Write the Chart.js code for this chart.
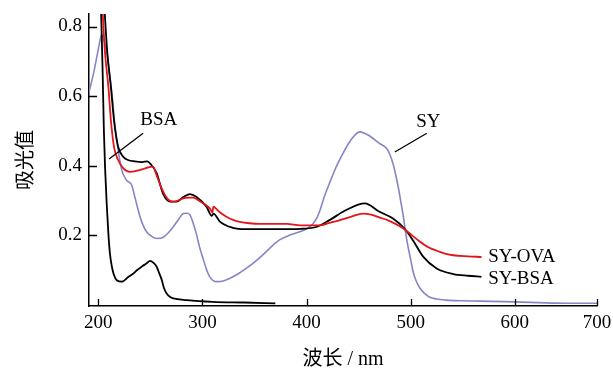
<!DOCTYPE html>
<html>
<head>
<meta charset="utf-8">
<script src="https://cdn.jsdelivr.net/npm/chart.js@4.4.1/dist/chart.umd.min.js"></script>
<style>
  body { margin: 0; background: #fff; }
  canvas { display: block; }
</style>
</head>
<body>
<canvas id="spectra" width="613" height="372"></canvas>
<script>
// wavelength (nm) and absorbance
const syOvaWl = [203.5, 204.5, 206.4, 209.6, 212, 215, 219, 224, 230.4, 238, 245, 252.5, 256, 260, 264, 268, 272, 277, 282, 287, 291, 298, 303, 307, 309.5, 310.5, 312, 317, 323, 330, 336, 345, 355, 381, 394, 413, 422, 432, 443, 454, 462, 470, 480, 493, 501, 509, 517, 525, 533, 541, 555, 568];
const syOvaAbs = [0.9, 0.82, 0.724, 0.627, 0.531, 0.454, 0.416, 0.392, 0.382, 0.386, 0.392, 0.397, 0.372, 0.34, 0.315, 0.3, 0.296, 0.3, 0.306, 0.308, 0.308, 0.296, 0.287, 0.277, 0.265, 0.282, 0.279, 0.265, 0.253, 0.243, 0.238, 0.234, 0.232, 0.232, 0.228, 0.228, 0.235, 0.243, 0.253, 0.262, 0.259, 0.251, 0.24, 0.219, 0.2, 0.181, 0.165, 0.155, 0.147, 0.142, 0.139, 0.137];

const syBsaWl = [205, 206.5, 208.6, 212, 215, 219, 224, 228.5, 235, 242, 247, 250, 256, 262, 269, 275, 282, 288, 294, 304, 309, 310.5, 317, 329, 342, 374, 394, 410, 422, 438, 456, 470, 483, 494, 502, 512, 525, 541, 555, 568];
const syBsaAbs = [0.9, 0.82, 0.724, 0.627, 0.531, 0.454, 0.425, 0.416, 0.412, 0.41, 0.412, 0.405, 0.378, 0.32, 0.296, 0.296, 0.31, 0.318, 0.31, 0.281, 0.255, 0.262, 0.238, 0.221, 0.217, 0.217, 0.218, 0.224, 0.243, 0.272, 0.291, 0.267, 0.248, 0.219, 0.186, 0.138, 0.104, 0.088, 0.083, 0.08];

const bsaWl = [201.5, 203, 204, 205.3, 206.4, 208, 209.6, 211, 213, 215, 217.7, 222.5, 229, 233, 237, 242, 246.5, 249.6, 253, 256, 258.5, 261, 263, 265.6, 269, 272, 285, 310, 340, 370];
const bsaAbs = [0.95, 0.8, 0.684, 0.5, 0.397, 0.29, 0.205, 0.15, 0.109, 0.085, 0.07, 0.066, 0.08, 0.088, 0.099, 0.11, 0.119, 0.126, 0.12, 0.109, 0.09, 0.07, 0.048, 0.032, 0.022, 0.018, 0.013, 0.008, 0.006, 0.0035];

const syWl = [191, 195, 199, 201.6, 203, 205, 208, 210.5, 213, 216, 219, 222.5, 227, 232, 235, 240, 243, 246.5, 251, 256, 262, 267, 272, 277, 281.6, 285, 288, 291, 294, 297, 301, 304, 307, 310, 313.6, 320, 326, 334, 342, 350, 358, 366, 374, 384, 394, 400, 406, 410, 413, 417, 422, 428, 435, 440, 445, 451, 459, 470, 477, 480, 483, 485.5, 488, 490.5, 493, 495, 497.5, 500, 502, 505, 509, 513, 518, 525, 534, 550, 566, 600, 630, 650, 679];
const syAbs = [0.612, 0.66, 0.72, 0.76, 0.776, 0.765, 0.73, 0.67, 0.608, 0.512, 0.445, 0.387, 0.358, 0.344, 0.31, 0.253, 0.228, 0.209, 0.197, 0.19, 0.193, 0.206, 0.224, 0.245, 0.262, 0.263, 0.258, 0.235, 0.205, 0.168, 0.128, 0.1, 0.08, 0.07, 0.066, 0.068, 0.075, 0.088, 0.104, 0.122, 0.143, 0.166, 0.186, 0.2, 0.21, 0.218, 0.232, 0.25, 0.272, 0.31, 0.349, 0.393, 0.435, 0.462, 0.483, 0.497, 0.488, 0.464, 0.449, 0.432, 0.406, 0.375, 0.339, 0.297, 0.253, 0.21, 0.166, 0.13, 0.099, 0.07, 0.047, 0.033, 0.022, 0.016, 0.013, 0.011, 0.01, 0.008, 0.005, 0.004, 0.004];

// axis ticks; the last x tick sits at the axis end and is labelled 700 as in the figure
const xTickValues = [200, 300, 400, 500, 600, 679];
const xTickLabels = ['200', '300', '400', '500', '600', '700'];
const yTickValues = [0.2, 0.4, 0.6, 0.8];

// curve labels: [text, wavelength, absorbance, align]
const curveLabels = [
    ['BSA', 258, 0.53, 'center'],
    ['SY', 517, 0.524, 'center'],
    ['SY-OVA', 574.5, 0.136, 'left'],
    ['SY-BSA', 574.5, 0.073, 'left']
];
// leader lines: [wl1, abs1, wl2, abs2]
const leaders = [
    [243, 0.493, 210.3, 0.419],
    [515.5, 0.493, 484.8, 0.439]
];

const toPoints = (wl, abs) => wl.map((w, i) => ({ x: w, y: abs[i] }));
const serif = '"Liberation Serif", "Noto Sans CJK SC", serif';

const decorations = {
    id: 'decorations',
    afterDraw(chart) {
        const { ctx, chartArea } = chart;
        const x = chart.scales.x, y = chart.scales.y;
        ctx.save();
        ctx.strokeStyle = '#000';
        ctx.lineWidth = 1.3;
        ctx.beginPath();
        xTickValues.forEach(v => {
            const px = Math.round(x.getPixelForValue(v)) + 0.5;
            ctx.moveTo(px, chartArea.bottom);
            ctx.lineTo(px, chartArea.bottom - 7);
        });
        yTickValues.forEach(v => {
            const py = Math.round(y.getPixelForValue(v)) + 0.5;
            ctx.moveTo(chartArea.left, py);
            ctx.lineTo(chartArea.left + 8, py);
        });
        leaders.forEach(l => {
            ctx.moveTo(x.getPixelForValue(l[0]), y.getPixelForValue(l[1]));
            ctx.lineTo(x.getPixelForValue(l[2]), y.getPixelForValue(l[3]));
        });
        ctx.stroke();

        ctx.fillStyle = '#000';
        ctx.font = '19px ' + serif;
        ctx.textBaseline = 'middle';
        curveLabels.forEach(c => {
            ctx.textAlign = c[3];
            ctx.fillText(c[0], x.getPixelForValue(c[1]), y.getPixelForValue(c[2]));
        });
        ctx.restore();
    }
};

const ctx = document.getElementById('spectra').getContext('2d');
new Chart(ctx, {
    type: 'line',
    data: {
        datasets: [
            { label: 'SY-OVA', data: toPoints(syOvaWl, syOvaAbs), borderColor: '#e3151b', borderWidth: 1.8 },
            { label: 'SY-BSA', data: toPoints(syBsaWl, syBsaAbs), borderColor: '#000000', borderWidth: 1.8 },
            { label: 'BSA', data: toPoints(bsaWl, bsaAbs), borderColor: '#000000', borderWidth: 1.8 },
            { label: 'SY', data: toPoints(syWl, syAbs), borderColor: '#8585c8', borderWidth: 1.6 }
        ]
    },
    options: {
        responsive: false,
        animation: false,
        elements: { point: { radius: 0 }, line: { cubicInterpolationMode: 'monotone' } },
        layout: { padding: { left: 0, right: 16, top: 14, bottom: 0 } },
        plugins: { legend: { display: false }, tooltip: { enabled: false } },
        scales: {
            x: {
                type: 'linear',
                min: 191,
                max: 679,
                afterBuildTicks: s => { s.ticks = xTickValues.map(v => ({ value: v })); },
                afterFit: s => { s.height = 66; s.paddingLeft = 0; s.paddingRight = 0; },
                ticks: {
                    autoSkip: false,
                    maxRotation: 0,
                    padding: 6,
                    color: '#000',
                    font: { family: serif, size: 19 },
                    callback: v => xTickLabels[xTickValues.indexOf(v)]
                },
                grid: { drawOnChartArea: false, drawTicks: false },
                border: { display: true, color: '#000', width: 1.5 },
                title: {
                    display: true,
                    text: '波长 / nm',
                    color: '#000',
                    font: { family: serif, size: 20 },
                    padding: { top: 0, bottom: 0 }
                }
            },
            y: {
                min: -0.004,
                max: 0.836,
                afterBuildTicks: s => { s.ticks = yTickValues.map(v => ({ value: v })); },
                afterFit: s => { s.width = 89; s.paddingTop = 0; s.paddingBottom = 0; },
                ticks: {
                    padding: 7,
                    color: '#000',
                    font: { family: serif, size: 19 },
                    callback: v => v.toFixed(1)
                },
                grid: { drawOnChartArea: false, drawTicks: false },
                border: { display: true, color: '#000', width: 1.5 },
                title: {
                    display: true,
                    text: '吸光值',
                    color: '#000',
                    font: { family: '"Noto Sans CJK SC", sans-serif', size: 20 },
                    padding: { top: 12, bottom: 12 }
                }
            }
        }
    },
    plugins: [decorations]
});
</script>
</body>
</html>
